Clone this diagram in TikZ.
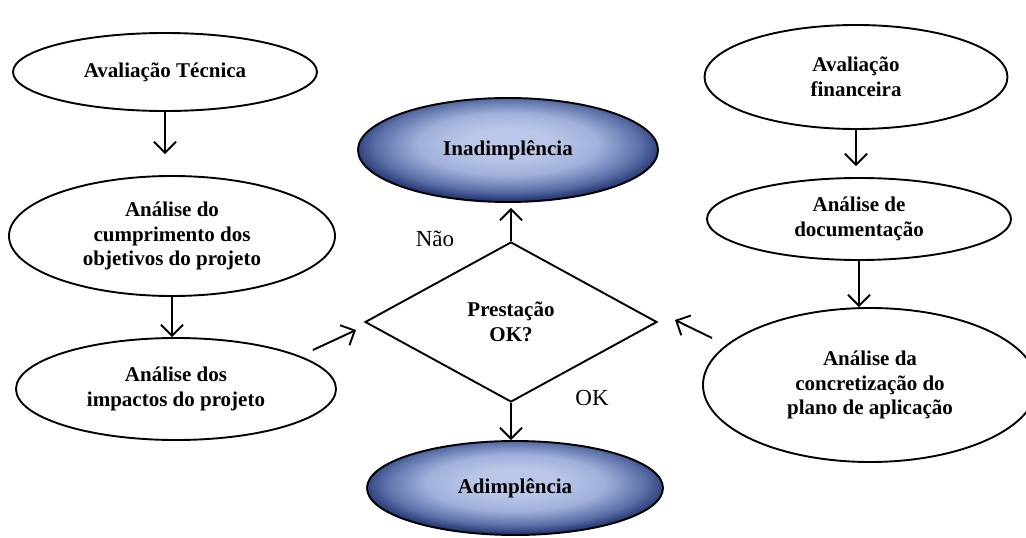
\documentclass[tikz,border=0pt]{standalone}
\usepackage{fontspec}
\setmainfont{Liberation Serif}
\usetikzlibrary{shapes.geometric,arrows.meta}
\definecolor{navy}{RGB}{24,42,104}
\definecolor{pale}{RGB}{186,199,232}
\definecolor{lightmid}{RGB}{160,176,218}
\definecolor{midblue}{RGB}{92,112,168}
\pgfdeclareradialshading{ellshade}{\pgfpoint{0bp}{4bp}}{color(0bp)=(pale); color(7bp)=(pale); color(15bp)=(lightmid); color(22bp)=(midblue); color(27bp)=(navy); color(50bp)=(navy)}
\begin{document}
\begin{tikzpicture}[x=1pt,y=-1pt,
  every node/.style={font=\bfseries\fontsize{21}{24.5}\selectfont, align=center, inner sep=0pt},
  plain/.style={ellipse, draw, line width=1.9pt, fill=white},
  dark/.style={ellipse, draw, line width=1.9pt, shading=ellshade},
  decision/.style={diamond, draw, line width=1.9pt, fill=white},
  conn/.style={line width=1.9pt, -{Straight Barb[length=11pt,width=22pt]}},
  lbl/.style={font=\fontsize{23}{26}\selectfont}]
\useasboundingbox (0,0) rectangle (1026,538);

\node[plain, minimum width=304pt, minimum height=78pt] (t1) at (165,72) {Avaliação Técnica};
\node[plain, minimum width=326pt, minimum height=120pt] (e2) at (172,236) {Análise do\\cumprimento dos\\objetivos do projeto};
\node[plain, minimum width=320pt, minimum height=102pt] (e3) at (176,389) {Análise dos\\impactos do projeto};

\node[plain, minimum width=303pt, minimum height=104pt] (r1) at (856,77) {Avaliação\\financeira};
\node[plain, minimum width=304pt, minimum height=82pt] (r2) at (859,219) {Análise de\\documentação};
\node[plain, minimum width=334pt, minimum height=154pt] (r3) at (870,385) {Análise da\\concretização do\\plano de aplicação};

\node[dark, minimum width=300pt, minimum height=104pt] (inad) at (508,150) {Inadimplência};
\node[decision, minimum width=292pt, minimum height=160pt] (d) at (511,322) {Prestação\\OK?};
\node[dark, minimum width=296pt, minimum height=94pt] (adim) at (515,488) {Adimplência};

\node[lbl] (nao) at (435,239) {Não};
\node[lbl] (ok) at (592,398) {OK};

\coordinate (la) at (313,350);
\coordinate (lb) at (356,330);
\coordinate (ra) at (712,338);
\coordinate (rb) at (675,320);

\draw[conn, shorten >=21pt] (t1.south) -- (t1.south |- e2.north);
\draw[conn] (e2.south) -- (e2.south |- e3.north);
\draw[conn, shorten >=11pt] (r1.south) -- (r1.south |- r2.north);
\draw[conn] (r2.south) -- (r2.south |- r3.north);
\draw[conn, shorten >=5pt] (d.north) -- (d.north |- inad.south);
\draw[conn] (d.south) -- (d.south |- adim.north);
\draw[conn] (la) -- (lb);
\draw[conn] (ra) -- (rb);
\end{tikzpicture}
\end{document}
